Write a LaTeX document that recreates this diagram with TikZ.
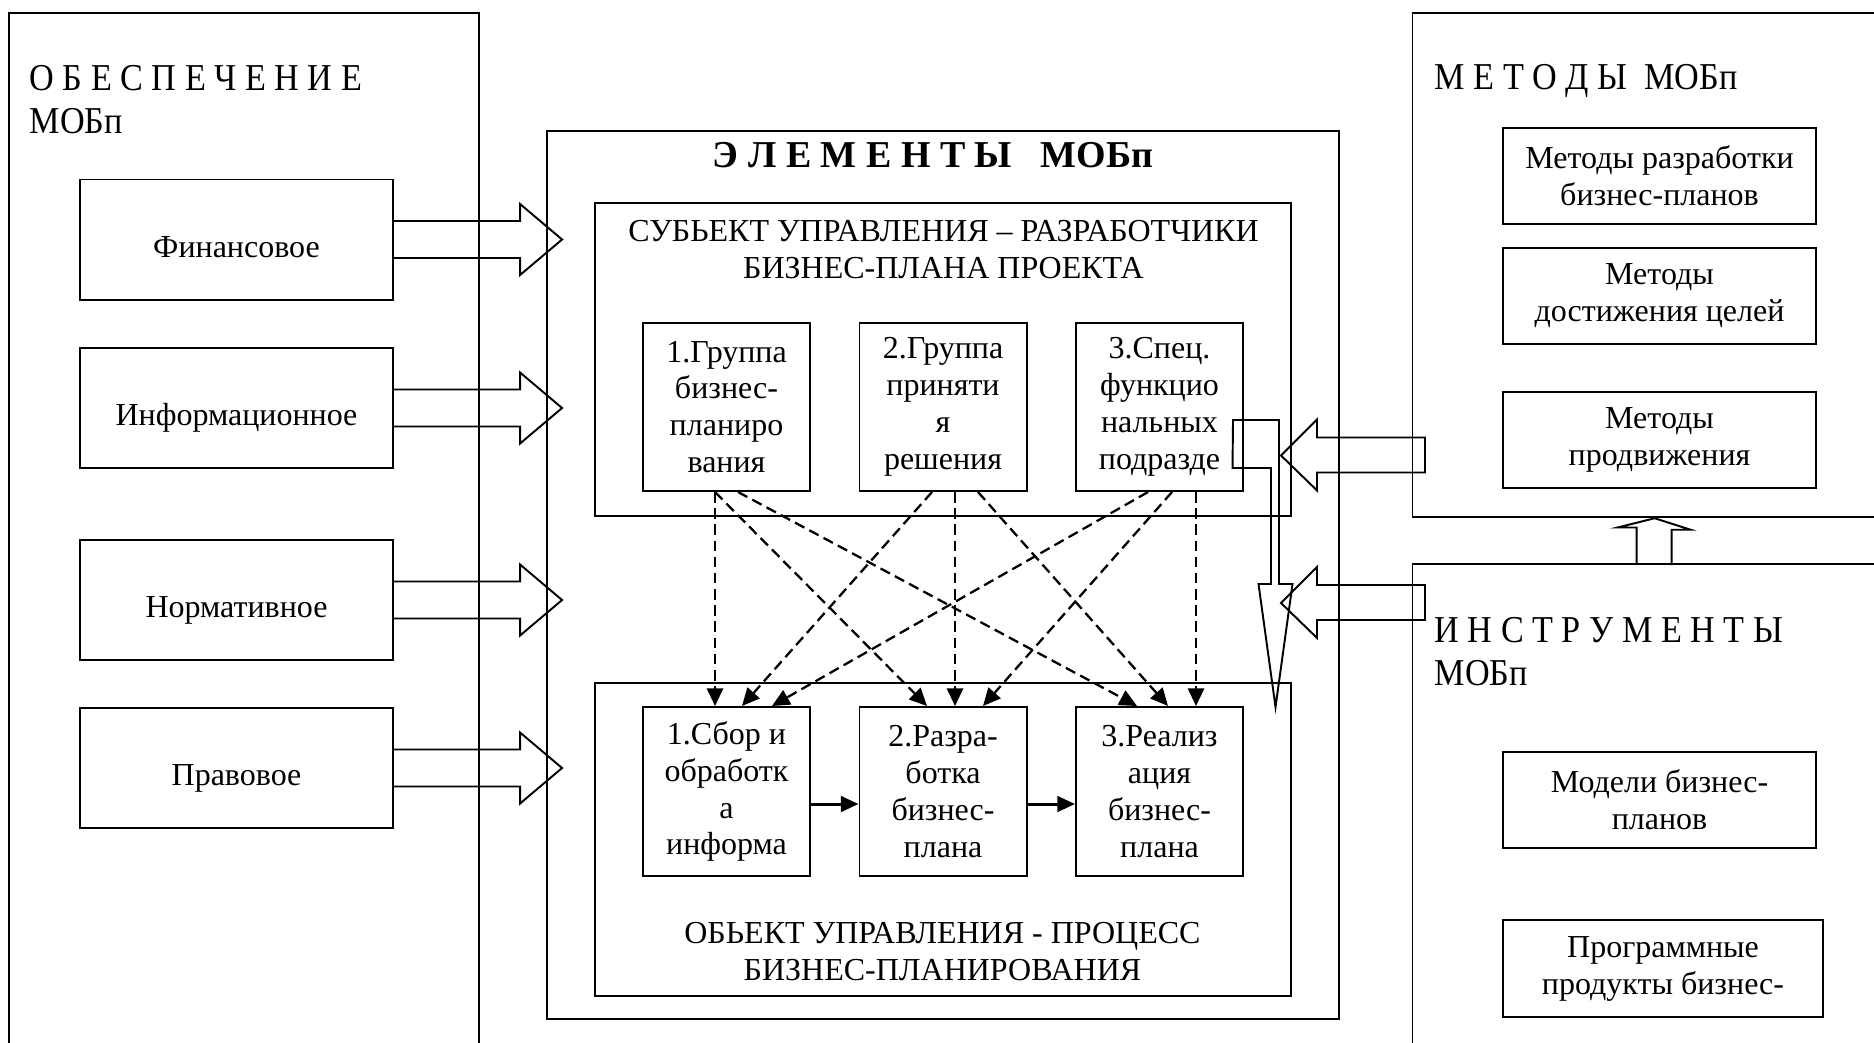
\documentclass[tikz,border=0pt]{standalone}
\usepackage{fontspec}
\setmainfont{Liberation Serif}
\newfontfamily\headfont[FakeStretch=0.9]{Liberation Serif}
\usetikzlibrary{arrows.meta,calc}

\begin{document}
\begin{tikzpicture}[
    x=0.01cm, y=-0.01cm,
    frame/.style={rectangle, draw, line width=0.55pt, inner sep=0pt},
    supp/.style={rectangle, draw, line width=0.55pt, minimum width=3.13cm, minimum height=1.2cm, text height=10pt, text depth=0pt, font=\fontsize{9.1}{10.5}\selectfont},
    grp/.style={rectangle, draw, line width=0.55pt, minimum width=1.67cm, minimum height=1.68cm, inner sep=0pt, align=center, font=\fontsize{9.1}{10.5}\selectfont},
    tool/.style={rectangle, draw, line width=0.55pt, minimum width=3.13cm, minimum height=0.96cm, inner sep=0pt, align=center, font=\fontsize{9.1}{10.5}\selectfont},
    heading/.style={inner sep=0pt, align=left, font=\headfont\fontsize{10.8}{12.2}\selectfont},
    caption/.style={inner sep=0pt, align=center, font=\fontsize{9.1}{10.5}\selectfont},
    hollow/.style={draw, line width=0.55pt, line join=miter},
    link/.style={-{Triangle[length=5pt, width=4.6pt]}, line width=0.65pt, dash pattern=on 3pt off 1.6pt},
    flow/.style={-{Triangle[length=5pt, width=4.4pt]}, line width=0.85pt}
  ]
  \useasboundingbox (0,0) rectangle (1874,1042);
  \clip (0,0) rectangle (1874,1042);

  \node[frame, minimum width=4.70cm, minimum height=11cm, anchor=north west] (obesp) at (8,12) {};
  \node[heading, anchor=north west] (obesptitle) at (29,65) {О Б Е С П Е Ч Е Н И Е\\МОБп};
  \node[supp] (fin)  at (236.5,239.5) {Финансовое};
  \node[supp] (inf)  at (236.5,408)   {Информационное};
  \node[supp] (norm) at (236.5,600)   {Нормативное};
  \node[supp] (prav) at (236.5,768)   {Правовое};

  \node[frame, minimum width=7.92cm, minimum height=8.88cm] (elem) at (943,575) {};
  \node[heading, font=\bfseries\fontsize{10.8}{12.2}\selectfont, anchor=base] (elemtitle) at (933,167) {Э Л Е М Е Н Т Ы\ \ \ МОБп};

  \node[frame, minimum width=6.96cm, minimum height=3.13cm] (subj) at (943,359.5) {};
  \node[caption, anchor=north] (subjtitle) at (943.5,220) {СУБЬЕКТ УПРАВЛЕНИЯ – РАЗРАБОТЧИКИ\\БИЗНЕС-ПЛАНА ПРОЕКТА};
  \node[grp] (s1) at (726.5,407)  {1.Группа\\бизнес-\\планиро\\вания};
  \node[grp] (s2) at (943,407)    {2.Группа\\приняти\\я\\решения};
  \node[grp] (s3) at (1159.5,407) {3.Спец.\\функцио\\нальных\\подразде};

  \node[frame, minimum width=6.96cm, minimum height=3.13cm] (obj) at (943,839.5) {};
  \node[grp, minimum height=1.69cm] (o1) at (726.5,791.5)  {1.Сбор и\\обработк\\а\\информа};
  \node[grp, minimum height=1.69cm] (o2) at (943,791.5)    {2.Разра-\\ботка\\бизнес-\\плана};
  \node[grp, minimum height=1.69cm] (o3) at (1159.5,791.5) {3.Реализ\\ация\\бизнес-\\плана};
  \node[caption, anchor=north] (objtitle) at (942.5,922) {ОБЬЕКТ УПРАВЛЕНИЯ - ПРОЦЕСС\\БИЗНЕС-ПЛАНИРОВАНИЯ};

  \node[frame, minimum width=4.84cm, minimum height=5.04cm, anchor=north west] (meth) at (1411.5,12) {};
  \node[heading, anchor=base west] (methtitle) at (1434,89) {М Е Т О Д Ы\ \ МОБп};
  \node[tool] (m1) at (1659.5,176) {Методы разработки\\бизнес-планов};
  \node[tool] (m2) at (1659.5,296) {Методы\\достижения целей};
  \node[tool] (m3) at (1659.5,440) {Методы\\продвижения};

  \node[frame, minimum width=4.84cm, minimum height=6cm, anchor=north west] (instr) at (1411.5,563) {};
  \node[heading, anchor=north west] (instrtitle) at (1434,617) {И Н С Т Р У М Е Н Т Ы\\МОБп};
  \node[tool] (t1) at (1659.5,800) {Модели бизнес-\\планов};
  \node[tool, minimum width=3.2cm, minimum height=0.97cm] (t2) at (1663,968.5) {Программные\\продукты бизнес-};

  \foreach \a/\da/\b/\db in {s1/-11.5/o1/-11.5, s1/-11.5/o2/-16, s1/11.5/o3/-22.5,
                             s2/-11/o1/15.5, s2/12/o2/12, s2/35/o3/8.5,
                             s3/-11.5/o1/45.5, s3/12.5/o2/40, s3/36.5/o3/36.5}
    \draw[link] ($(\a.south)+(\da,0)$) -- ($(\b.north)+(\db,0)$);

  \draw[flow] ($(o1.east)+(0,12.5)$) -- ($(o2.west)+(0,12.5)$);
  \draw[flow] ($(o2.east)+(0,12.5)$) -- ($(o3.west)+(0,12.5)$);

  \foreach \n in {fin,inf,norm,prav}
    \draw[hollow] (\n.east) ++(0,-18.5) -- ++(126,0) -- ++(0,-17) -- ++(42,35.5)
      -- ++(-42,35.5) -- ++(0,-17) -- ++(-126,0);

  \coordinate (mtip) at (1281,455.5);
  \coordinate (ttip) at (1281,603);
  \foreach \t in {mtip,ttip}
    \draw[hollow] (\t) -- ++(36,-36) -- ++(0,18) -- ++(108,0) -- ++(0,35)
      -- ++(-108,0) -- ++(0,18) -- cycle;

  \coordinate (bend) at (1233,420);
  \draw[hollow] (bend) -- ++(46,0) -- ++(0,164) -- ++(13.5,0) -- ++(-17,123)
    -- ++(-17,-123) -- ++(12.5,0) -- ++(0,-116) -- ++(-38.5,0) -- cycle;

  \draw[hollow] (instr.north) ++(-18,0) -- ++(0,-35.5) -- ++(-19,0) -- (meth.south)
    -- ++(36,11.5) -- ++(-19,0) -- ++(0,35.5);
\end{tikzpicture}
\end{document}
